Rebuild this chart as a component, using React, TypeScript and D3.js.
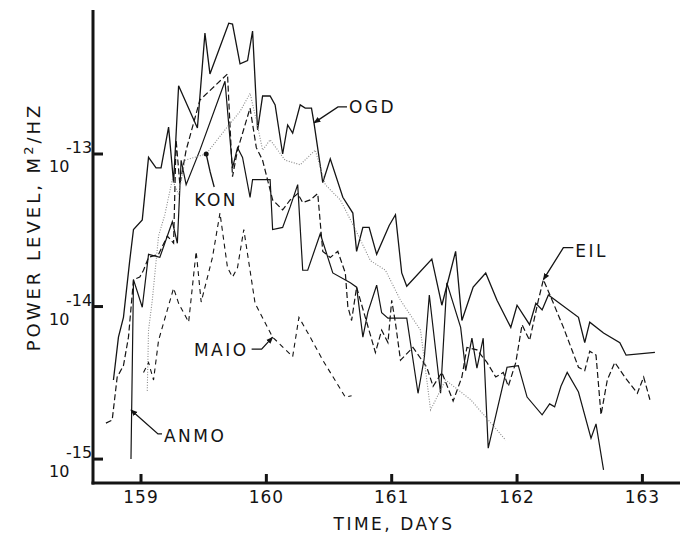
import React from "react";
import * as d3 from "d3";

// ---------- data ----------
const xTicks = [159, 160, 161, 162, 163];
const yTicks = [1e-13, 1e-14, 1e-15];
const yTickExponents = ["-13", "-14", "-15"];

const ogdDays = [158.78, 158.82, 158.86, 158.91, 158.94, 159.01, 159.06, 159.12, 159.16, 159.22, 159.26, 159.3, 159.45, 159.51, 159.55, 159.7, 159.73, 159.79, 159.85, 159.89, 159.93, 159.97, 160.03, 160.07, 160.13, 160.17, 160.21, 160.27, 160.31, 160.36, 160.38, 160.45, 160.51, 160.61, 160.69, 160.72, 160.77, 160.82, 160.88, 160.98, 161.03, 161.08, 161.12, 161.32, 161.4, 161.51, 161.56, 161.65, 161.75, 161.84, 161.95, 162.0, 162.1, 162.15, 162.2, 162.25, 162.49, 162.54, 162.58, 162.69, 162.82, 162.87, 163.1];
const ogdPower = [3.3e-15, 6.3e-15, 8.5e-15, 2.0e-14, 3.2e-14, 3.7e-14, 9.5e-14, 8.1e-14, 8.1e-14, 1.5e-13, 6.5e-14, 2.8e-13, 1.48e-13, 6.2e-13, 3.35e-13, 7.2e-13, 7.1e-13, 3.9e-13, 4.1e-13, 6.4e-13, 1.44e-13, 2.4e-13, 2.4e-13, 2.1e-13, 1.0e-13, 1.55e-13, 1.37e-13, 2.1e-13, 2.0e-13, 2.0e-13, 1.6e-13, 6.5e-14, 9.3e-14, 5.2e-14, 4.1e-14, 2.3e-14, 3.3e-14, 3.3e-14, 2.2e-14, 3.4e-14, 4.0e-14, 1.66e-14, 1.36e-14, 2.05e-14, 1.02e-14, 2.3e-14, 8.1e-15, 1.34e-14, 1.66e-14, 1.1e-14, 7.3e-15, 1.02e-14, 7.6e-15, 1.05e-14, 9.5e-15, 1.19e-14, 8.5e-15, 5.8e-15, 7.9e-15, 6.7e-15, 5.8e-15, 4.8e-15, 5.0e-15];

const anmoDays = [158.92, 158.94, 159.01, 159.06, 159.15, 159.21, 159.25, 159.29, 159.32, 159.36, 159.47, 159.67, 159.73, 159.77, 159.81, 159.87, 159.89, 160.03, 160.05, 160.13, 160.19, 160.25, 160.29, 160.33, 160.43, 160.53, 160.67, 160.72, 160.77, 160.81, 160.88, 160.92, 160.97, 161.12, 161.21, 161.26, 161.3, 161.39, 161.44, 161.55, 161.59, 161.64, 161.68, 161.73, 161.77, 161.92, 162.01, 162.08, 162.2, 162.26, 162.3, 162.35, 162.4, 162.49, 162.59, 162.63, 162.69];
const anmoPower = [1.0e-15, 1.5e-14, 9.9e-15, 2.2e-14, 2.1e-14, 2.9e-14, 3.6e-14, 2.6e-14, 9.1e-14, 6.3e-14, 1.06e-13, 3.0e-13, 8.1e-14, 1.1e-13, 9.5e-14, 5.2e-14, 6.8e-14, 6.8e-14, 3.2e-14, 3.3e-14, 4.5e-14, 6.3e-14, 1.73e-14, 1.73e-14, 3.0e-14, 1.66e-14, 1.43e-14, 1.34e-14, 6.3e-15, 9.2e-15, 1.38e-14, 9.1e-15, 8.4e-15, 8.4e-15, 2.7e-15, 4.6e-15, 1.19e-14, 2.7e-15, 1.43e-14, 7.3e-15, 3.8e-15, 6.2e-15, 3.95e-15, 6.2e-15, 1.18e-15, 4.0e-15, 4.1e-15, 2.55e-15, 1.95e-15, 2.3e-15, 2.2e-15, 3.0e-15, 3.7e-15, 2.75e-15, 1.37e-15, 1.7e-15, 8.5e-16];

const eilDays = [158.72, 158.77, 158.81, 158.86, 158.9, 158.94, 158.99, 159.02, 159.06, 159.14, 159.21, 159.26, 159.28, 159.31, 159.36, 159.47, 159.69, 159.73, 159.77, 159.87, 159.92, 159.97, 160.05, 160.13, 160.19, 160.25, 160.29, 160.35, 160.41, 160.45, 160.51, 160.57, 160.63, 160.65, 160.68, 160.72, 160.87, 160.92, 160.97, 161.0, 161.03, 161.07, 161.17, 161.28, 161.33, 161.4, 161.49, 161.56, 161.6, 161.68, 161.76, 161.83, 161.89, 161.93, 161.99, 162.04, 162.1, 162.17, 162.21, 162.28, 162.37, 162.49, 162.54, 162.58, 162.63, 162.67, 162.72, 162.78, 162.86, 162.96, 163.01, 163.06];
const eilPower = [1.72e-15, 1.8e-15, 3.45e-15, 4.1e-15, 6.3e-15, 1.5e-14, 1.56e-14, 1.73e-14, 2.1e-14, 2.2e-14, 2.9e-14, 2.6e-14, 1.24e-13, 6.3e-14, 1.06e-13, 2.26e-13, 3.35e-13, 7.1e-14, 1.06e-13, 2.0e-13, 1.1e-13, 9.1e-14, 5.0e-14, 4.3e-14, 5.0e-14, 5.5e-14, 4.8e-14, 5.0e-14, 5.5e-14, 2.3e-14, 2.1e-14, 2.3e-14, 1.66e-14, 1.0e-14, 8.1e-15, 1.34e-14, 5.0e-15, 7.0e-15, 5.8e-15, 1.1e-14, 7.8e-15, 4.45e-15, 5.4e-15, 4.0e-15, 3.0e-15, 3.7e-15, 2.4e-15, 3.45e-15, 5.4e-15, 5.2e-15, 4.3e-15, 3.45e-15, 3.7e-15, 3.0e-15, 4.3e-15, 7.6e-15, 6.0e-15, 1.1e-14, 1.5e-14, 1.1e-14, 7.3e-15, 4.0e-15, 3.8e-15, 5.1e-15, 4.8e-15, 1.95e-15, 3.3e-15, 4.3e-15, 3.45e-15, 2.7e-15, 3.45e-15, 2.45e-15];

const maioDays = [159.02, 159.06, 159.1, 159.14, 159.21, 159.26, 159.3, 159.38, 159.44, 159.48, 159.57, 159.63, 159.69, 159.73, 159.77, 159.82, 159.91, 160.05, 160.21, 160.26, 160.35, 160.45, 160.63, 160.68];
const maioPower = [3.7e-15, 4.3e-15, 3.3e-15, 6.0e-15, 9.5e-15, 1.32e-14, 1.05e-14, 7.9e-15, 2.3e-14, 1.07e-14, 2.1e-14, 4.1e-14, 1.8e-14, 1.56e-14, 1.8e-14, 3.2e-14, 1.05e-14, 6.3e-15, 4.7e-15, 8.5e-15, 6.3e-15, 4.45e-15, 2.55e-15, 2.6e-15];

const konDays = [159.05, 159.06, 159.09, 159.14, 159.19, 159.25, 159.3, 159.35, 159.52, 159.67, 159.79, 159.87, 159.92, 159.97, 160.03, 160.15, 160.27, 160.39, 160.47, 160.59, 160.71, 160.83, 160.95, 161.07, 161.23, 161.31, 161.43, 161.63, 161.91];
const konPower = [2.8e-15, 7.0e-15, 1.1e-14, 2.9e-14, 4.0e-14, 6.8e-14, 5.4e-14, 9.1e-14, 1.0e-13, 1.44e-13, 1.9e-13, 2.5e-13, 1.67e-13, 1.06e-13, 1.24e-13, 9.1e-14, 8.5e-14, 1.06e-13, 6.3e-14, 5.0e-14, 3.2e-14, 2.0e-14, 1.73e-14, 1.1e-14, 7.0e-15, 2.1e-15, 3.3e-15, 2.45e-15, 1.33e-15];

const seriesNames = ["OGD", "ANMO", "EIL", "MAIO", "KON"];
const seriesDays = [ogdDays, anmoDays, eilDays, maioDays, konDays];
const seriesPower = [ogdPower, anmoPower, eilPower, maioPower, konPower];

// label anchors (day, power on the labelled curve)
const labelNames = ["OGD", "KON", "EIL", "MAIO", "ANMO"];
const labelDays = [160.38, 159.52, 162.21, 160.05, 158.92];
const labelPower = [1.6e-13, 1.0e-13, 1.5e-14, 6.3e-15, 2.1e-15];

// ---------- layout / style ----------
const W = 680;
const H = 540;
const INK = "#141414";
const FONT = "'DejaVu Sans', sans-serif";

const styles: Record<string, { dash?: string; color: string; width: number }> = {
  OGD: { color: INK, width: 1.3 },
  ANMO: { color: INK, width: 1.2 },
  EIL: { color: INK, width: 1.2, dash: "6,3" },
  MAIO: { color: INK, width: 1.1, dash: "5,4" },
  KON: { color: "#8a8a8a", width: 1.1, dash: "1,1.6" },
};

// leader geometry relative to anchor (pixels): elbow, leader end, text pos, anchor
const leaders: Record<string, { elbow: [number, number]; end: [number, number]; text: [number, number]; anchor: string; head: string }> = {
  OGD: { elbow: [24, -16], end: [33, -16], text: [35, -10], anchor: "start", head: "arrow" },
  KON: { elbow: [4, 18], end: [8, 33], text: [10, 52], anchor: "middle", head: "dot" },
  EIL: { elbow: [20, -32], end: [30, -32], text: [32, -23], anchor: "start", head: "arrow" },
  MAIO: { elbow: [-11, 12], end: [-21, 12], text: [-24, 19], anchor: "end", head: "arrow" },
  ANMO: { elbow: [27, 24], end: [31, 24], text: [33, 32], anchor: "start", head: "arrow" },
};

export default function App() {
  const x = d3.scaleLinear().domain([158.617, 163.3]).range([93, 680]);
  const y = d3.scaleLog().domain([6.97e-16, 8.79e-13]).range([483, 10]);

  const line = d3
    .line<[number, number]>()
    .x((d) => x(d[0]))
    .y((d) => y(d[1]));

  return (
    <svg
      width={W}
      height={H}
      viewBox={`0 0 ${W} ${H}`}
      style={{ position: "absolute", left: 0, top: 0, background: "#fff" }}
      fontFamily={FONT}
    >
      <defs>
        <marker id="arrow" viewBox="0 0 10 10" refX="9" refY="5" markerWidth="7" markerHeight="7" orient="auto" markerUnits="userSpaceOnUse">
          <path d="M0,1 L10,5 L0,9 Z" fill={INK} />
        </marker>
      </defs>
      <rect x={0} y={0} width={W} height={H} fill="#fff" />

      {/* series */}
      {seriesNames.map((name, i) => {
        const pts: [number, number][] = seriesDays[i].map((d, j) => [d, seriesPower[i][j]]);
        const s = styles[name];
        return (
          <path
            key={name}
            d={line(pts) || ""}
            fill="none"
            stroke={s.color}
            strokeWidth={s.width}
            strokeDasharray={s.dash}
            strokeLinejoin="miter"
          />
        );
      })}

      {/* axes */}
      <line x1={x.range()[0]} x2={x.range()[0]} y1={y.range()[1]} y2={y.range()[0] + 1.5} stroke={INK} strokeWidth={3} />
      <line x1={x.range()[0] - 1.5} x2={x.range()[1]} y1={y.range()[0]} y2={y.range()[0]} stroke={INK} strokeWidth={3} />

      {xTicks.map((t) => (
        <g key={t}>
          <line x1={x(t)} x2={x(t)} y1={y.range()[0]} y2={y.range()[0] - 9} stroke={INK} strokeWidth={3} />
          <text x={x(t)} y={503} textAnchor="middle" fontSize={17} fill={INK} letterSpacing={1}>
            {t}
          </text>
        </g>
      ))}

      {yTicks.map((t, i) => (
        <g key={t}>
          <line x1={x.range()[0]} x2={x.range()[0] + 10} y1={y(t)} y2={y(t)} stroke={INK} strokeWidth={3} />
          <text x={49} y={y(t) + 18} fontSize={16} fill={INK}>
            10
          </text>
          <text x={66} y={y(t) - 1} fontSize={16} fill={INK}>
            {yTickExponents[i]}
          </text>
        </g>
      ))}

      {/* axis titles */}
      <text x={394} y={530} textAnchor="middle" fontSize={17} fill={INK} letterSpacing={2.5}>
        TIME, DAYS
      </text>
      <text transform="translate(40,227) rotate(-90)" textAnchor="middle" fontSize={18} fill={INK} letterSpacing={3}>
        POWER LEVEL,  M
        <tspan dy={-7} fontSize={13}>2</tspan>
        <tspan dy={7}>/HZ</tspan>
      </text>

      {/* labels with leaders */}
      {labelNames.map((name, i) => {
        const ax = x(labelDays[i]);
        const ay = y(labelPower[i]);
        const L = leaders[name];
        const d = `M${ax + L.end[0]},${ay + L.end[1]} L${ax + L.elbow[0]},${ay + L.elbow[1]} L${ax},${ay}`;
        return (
          <g key={name}>
            <path d={d} fill="none" stroke={INK} strokeWidth={1.3} markerEnd={L.head === "arrow" ? "url(#arrow)" : undefined} />
            {L.head === "dot" && <circle cx={ax} cy={ay} r={2.5} fill={INK} />}
            <text x={ax + L.text[0]} y={ay + L.text[1]} textAnchor={L.anchor} fontSize={17} fill={INK} letterSpacing={2.5}>
              {name}
            </text>
          </g>
        );
      })}
    </svg>
  );
}
